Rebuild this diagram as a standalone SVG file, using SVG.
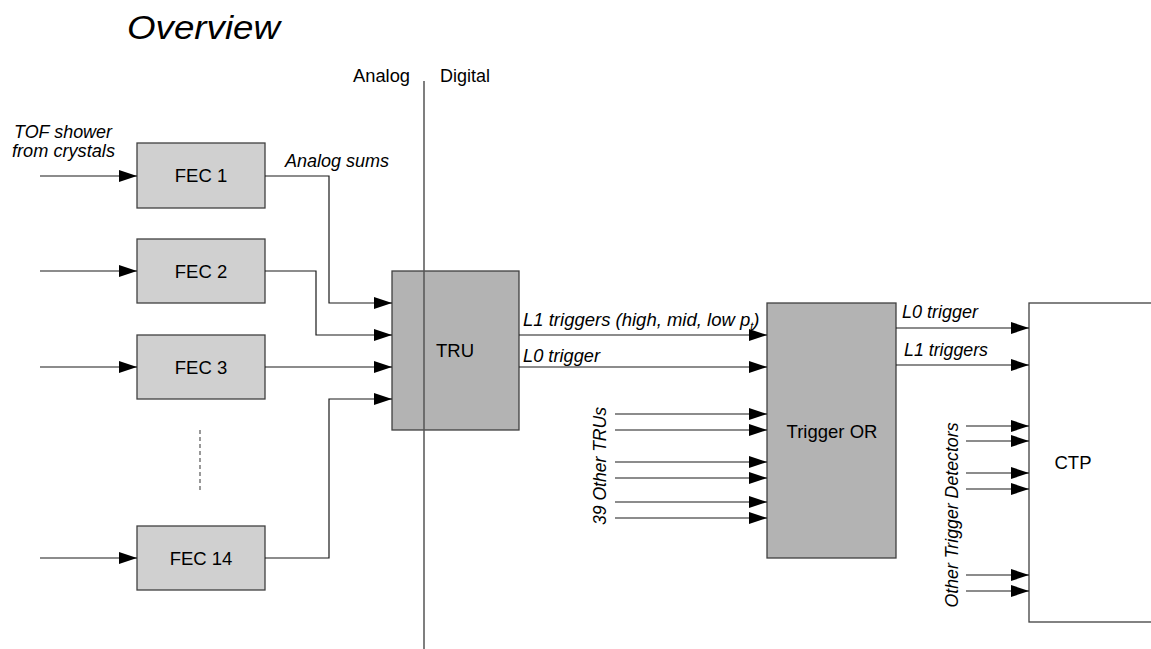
<svg xmlns="http://www.w3.org/2000/svg" width="1151" height="649" viewBox="0 0 1151 649">
  <style>
    text { font-family: "Liberation Sans", Arial, sans-serif; fill: #000; }
    .lbl { font-size: 17.5px; font-style: italic; }
    .node-text { font-size: 18.5px; text-anchor: middle; }
    .fec { fill: #d0d0d0; stroke: #404040; stroke-width: 1.3; }
    .blk { fill: #b3b3b3; stroke: #404040; stroke-width: 1.3; }
    .ctp { fill: #ffffff; stroke: #404040; stroke-width: 1.3; }
    .wire { fill: none; stroke: #1a1a1a; stroke-width: 1.2; }
    .arr { marker-end: url(#head); }
  </style>
  <defs>
    <marker id="head" markerUnits="userSpaceOnUse" markerWidth="20" markerHeight="13" refX="18" refY="6" orient="auto">
      <path d="M0,0 L18,6 L0,12 z" fill="#000"/>
    </marker>
  </defs>

  <rect width="1151" height="649" fill="#fff"/>

  <!-- title -->
  <text x="127" y="39" style="font-size:34px;font-style:italic" textLength="153" lengthAdjust="spacingAndGlyphs">Overview</text>

  <!-- front-end cards -->
  <g id="fec1">
    <rect class="fec" x="137" y="143" width="128" height="65"/>
    <text class="node-text" x="201" y="182">FEC 1</text>
  </g>
  <g id="fec2">
    <rect class="fec" x="137" y="239" width="128" height="64"/>
    <text class="node-text" x="201" y="278">FEC 2</text>
  </g>
  <g id="fec3">
    <rect class="fec" x="137" y="335" width="128" height="64"/>
    <text class="node-text" x="201" y="374">FEC 3</text>
  </g>
  <g id="fec14">
    <rect class="fec" x="137" y="526" width="128" height="64"/>
    <text class="node-text" x="201" y="565">FEC 14</text>
  </g>
  <g id="ellipsis">
    <line x1="200" y1="430" x2="200" y2="493" stroke="#555" stroke-width="1.2" stroke-dasharray="4,3"/>
  </g>

  <!-- trigger region unit -->
  <g id="tru">
    <rect class="blk" x="392" y="271" width="127" height="159"/>
    <text class="node-text" x="455" y="357">TRU</text>
  </g>

  <!-- analog / digital boundary -->
  <g id="boundary">
    <line x1="424" y1="81" x2="424" y2="649" stroke="#555" stroke-width="1.5"/>
    <text x="353" y="82" style="font-size:17.5px" textLength="57" lengthAdjust="spacingAndGlyphs">Analog</text>
    <text x="440" y="82" style="font-size:17.5px" textLength="50" lengthAdjust="spacingAndGlyphs">Digital</text>
  </g>

  <g id="trigger-or">
    <rect class="blk" x="767" y="303" width="129" height="255"/>
    <text class="node-text" x="832" y="438">Trigger OR</text>
  </g>

  <g id="ctp">
    <rect class="ctp" x="1029" y="303" width="130" height="319"/>
    <text class="node-text" x="1073" y="469">CTP</text>
  </g>

  <!-- connectors -->
  <g id="connectors">
    <!-- crystal inputs -->
    <line class="wire arr" x1="40" y1="176" x2="137" y2="176"/>
    <line class="wire arr" x1="40" y1="271" x2="137" y2="271"/>
    <line class="wire arr" x1="40" y1="367" x2="137" y2="367"/>
    <line class="wire arr" x1="40" y1="558" x2="137" y2="558"/>

    <!-- analog sums to TRU -->
    <polyline class="wire arr" points="265,176 329,176 329,303 392,303"/>
    <polyline class="wire arr" points="265,271 316,271 316,335 392,335"/>
    <line class="wire arr" x1="265" y1="367" x2="392" y2="367"/>
    <polyline class="wire arr" points="265,558 329,558 329,399 392,399"/>

    <!-- TRU to Trigger OR -->
    <line class="wire arr" x1="519" y1="335" x2="767" y2="335"/>
    <line class="wire arr" x1="519" y1="367" x2="767" y2="367"/>

    <!-- other TRUs -->
    <line class="wire arr" x1="615" y1="414" x2="767" y2="414"/>
    <line class="wire arr" x1="615" y1="430" x2="767" y2="430"/>
    <line class="wire arr" x1="615" y1="462" x2="767" y2="462"/>
    <line class="wire arr" x1="615" y1="478" x2="767" y2="478"/>
    <line class="wire arr" x1="615" y1="502" x2="767" y2="502"/>
    <line class="wire arr" x1="615" y1="518" x2="767" y2="518"/>

    <!-- Trigger OR to CTP -->
    <line class="wire arr" x1="896" y1="328" x2="1029" y2="328"/>
    <line class="wire arr" x1="896" y1="365" x2="1029" y2="365"/>

    <!-- other trigger detectors -->
    <line class="wire arr" x1="966" y1="426" x2="1029" y2="426"/>
    <line class="wire arr" x1="966" y1="441" x2="1029" y2="441"/>
    <line class="wire arr" x1="966" y1="473" x2="1029" y2="473"/>
    <line class="wire arr" x1="966" y1="489" x2="1029" y2="489"/>
    <line class="wire arr" x1="966" y1="575" x2="1029" y2="575"/>
    <line class="wire arr" x1="966" y1="591" x2="1029" y2="591"/>
  </g>

  <!-- connector labels -->
  <g id="labels">
    <text class="lbl" x="14" y="138" textLength="98" lengthAdjust="spacingAndGlyphs">TOF shower</text>
    <text class="lbl" x="12" y="157" textLength="103" lengthAdjust="spacingAndGlyphs">from crystals</text>
    <text class="lbl" x="285" y="167" textLength="104" lengthAdjust="spacingAndGlyphs">Analog sums</text>
    <text class="lbl" x="523" y="326" style="font-size:18.5px">L1 triggers (high, mid, low p<tspan style="font-size:11px" dy="4">t</tspan><tspan dy="-4">)</tspan></text>
    <text class="lbl" x="523" y="362" textLength="77" lengthAdjust="spacingAndGlyphs">L0 trigger</text>
    <text class="lbl" x="902" y="318" textLength="76" lengthAdjust="spacingAndGlyphs">L0 trigger</text>
    <text class="lbl" x="904" y="356" textLength="84" lengthAdjust="spacingAndGlyphs">L1 triggers</text>
    <text class="lbl" transform="translate(606,466) rotate(-90)" text-anchor="middle" textLength="118" lengthAdjust="spacingAndGlyphs">39 Other TRUs</text>
    <text class="lbl" transform="translate(958,515) rotate(-90)" text-anchor="middle" textLength="185" lengthAdjust="spacingAndGlyphs">Other Trigger Detectors</text>
  </g>
</svg>
